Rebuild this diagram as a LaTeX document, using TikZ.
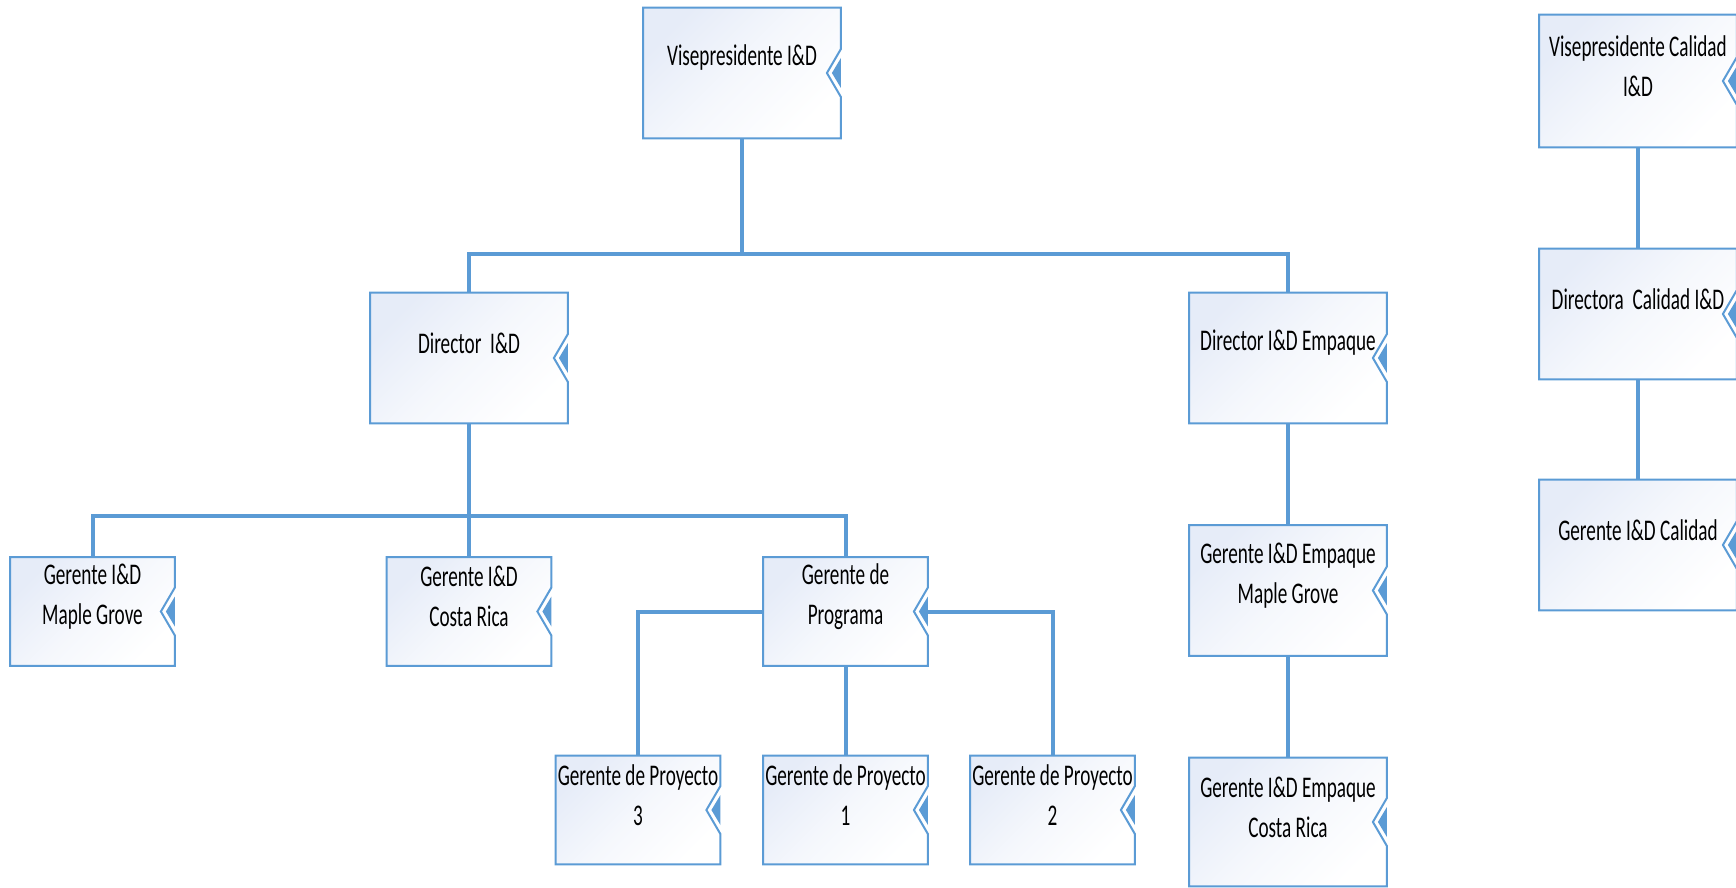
\documentclass[tikz,border=0pt]{standalone}
\usepackage{fontspec}
\setmainfont{Carlito}[FakeStretch=0.64]
\usepackage{tikz}

\definecolor{lineblue}{RGB}{91,155,213}
\definecolor{boxfill}{RGB}{230,236,248}

\tikzset{
  puesto/.style={inner sep=0pt, top color=boxfill, bottom color=white, middle color=white!60!boxfill,
    shading angle=45, minimum width=98.5pt, minimum height=65pt},
  puesto chico/.style={puesto, minimum width=82pt, minimum height=54pt},
  rotulo/.style={align=center, inner sep=0pt, yshift=7.5pt,
    font=\fontsize{15pt}{20pt}\selectfont},
  conector/.style={draw=lineblue, line width=2pt},
}

\begin{document}
\begin{tikzpicture}[x=0.5pt, y=-0.5pt]
    \useasboundingbox (0,0) rectangle (1736,888);

    % rama principal
    \node[puesto] (vpid) at (742,73) [label={[rotulo]center:Visepresidente I\&D}] {};
    \node[puesto] (dirid) at (469,358) [label={[rotulo]center:Director\ \ I\&D}] {};
    \node[puesto] (diremp) at (1288,358) [label={[rotulo]center:Director I\&D Empaque}] {};

    \node[puesto chico] (germg) at (92.5,611.5) [label={[rotulo]center:Gerente I\&D\\Maple Grove}] {};
    \node[puesto chico] (gercr) at (469,611.5) [label={[rotulo]center:Gerente I\&D\\Costa Rica}] {};
    \node[puesto chico] (gerprog) at (845.5,611.5) [label={[rotulo]center:Gerente de\\Programa}] {};

    \node[puesto chico] (proy3) at (638,810) [label={[rotulo]center:Gerente de Proyecto\\3}] {};
    \node[puesto chico] (proy1) at (845.5,810) [label={[rotulo]center:Gerente de Proyecto\\1}] {};
    \node[puesto chico] (proy2) at (1052.5,810) [label={[rotulo]center:Gerente de Proyecto\\2}] {};

    \node[puesto] (empmg) at (1288,590.5) [label={[rotulo]center:Gerente I\&D Empaque\\Maple Grove}] {};
    \node[puesto, minimum height=64pt] (empcr) at (1288,822) [label={[rotulo]center:Gerente I\&D Empaque\\Costa Rica}] {};

    % rama calidad
    \node[puesto, minimum height=66pt] (vpcal) at (1638,81) [label={[rotulo]center:Visepresidente Calidad\\I\&D}] {};
    \node[puesto] (dircal) at (1638,314) [label={[rotulo]center:Directora\ \ Calidad I\&D}] {};
    \node[puesto] (gercal) at (1638,545) [label={[rotulo]center:Gerente I\&D Calidad}] {};

    % bordes con la muesca
    \foreach \n in {vpid,dirid,diremp,germg,gercr,gerprog,proy3,proy1,proy2,empmg,empcr,vpcal,dircal,gercal} {
        \fill[white] ([yshift=12pt]\n.east) -- ([xshift=-7pt]\n.east) -- ([yshift=-12pt]\n.east) -- cycle;
        \draw[lineblue, line width=1pt] ([yshift=12pt]\n.east) -- (\n.north east) -- (\n.north west)
            -- (\n.south west) -- (\n.south east) -- ([yshift=-12pt]\n.east) -- ([xshift=-7pt]\n.east) -- cycle;
        \fill[lineblue] ([yshift=7.5pt]\n.east) -- ([xshift=-4.5pt]\n.east) -- ([yshift=-7.5pt]\n.east) -- cycle;
    }

    \coordinate (bus1) at (742,254);
    \coordinate (bus2) at (469,516);

    % conectores
    \draw[conector] (vpid.south) -- (bus1);
    \draw[conector] (dirid.north) |- (bus1) -| (diremp.north);
    \draw[conector] (dirid.south) -- (gercr.north);
    \draw[conector] (germg.north) |- (bus2) -| (gerprog.north);
    \draw[conector] (gerprog.west) -| (proy3.north);
    \draw[conector] (gerprog.south) -- (proy1.north);
    \draw[conector] (gerprog.east) -| (proy2.north);
    \draw[conector] (diremp.south) -- (empmg.north);
    \draw[conector] (empmg.south) -- (empcr.north);
    \draw[conector] (vpcal.south) -- (dircal.north);
    \draw[conector] (dircal.south) -- (gercal.north);

\end{tikzpicture}
\end{document}
